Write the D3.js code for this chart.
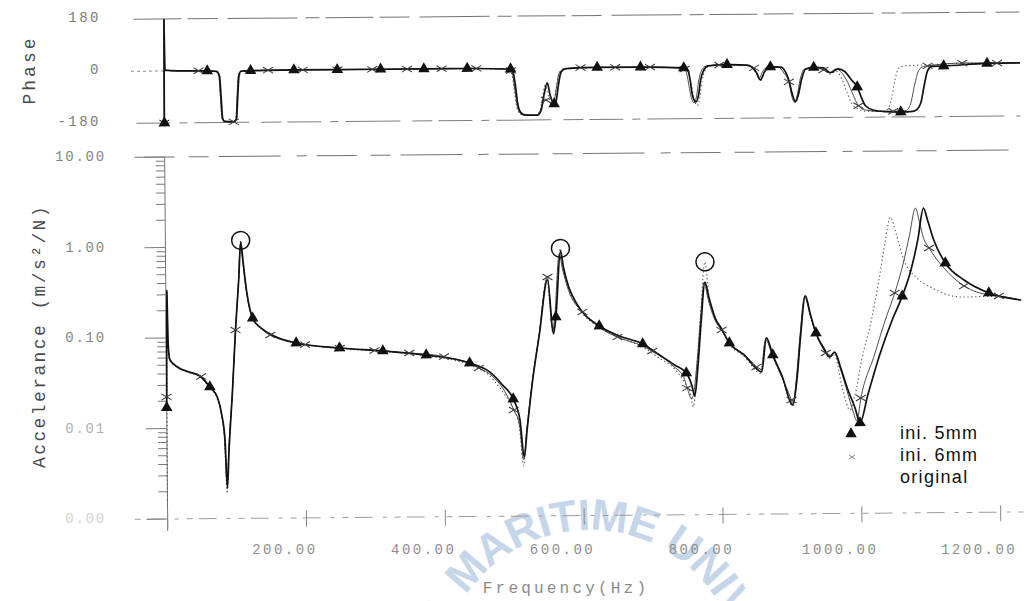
<!DOCTYPE html>
<html>
<head>
<meta charset="utf-8">
<script src="https://cdn.jsdelivr.net/npm/d3@7"></script>
<style>
  html, body { margin: 0; padding: 0; background: #ffffff; }
  svg { display: block; }
</style>
</head>
<body>
<svg id="chart" width="1028" height="601"></svg>
<script>
// ---- series names ----
const seriesNames = ["ini. 5mm", "ini. 6mm", "original"];

// ---- accelerance magnitude [Hz, m/s^2/N] ----
const ampIni5 = [
  [0,0.017],[0.8,0.12],[1.6,0.34],[2.6,0.095],[5,0.058],[16,0.0477],[33,0.0419],[48,0.0378],
  [62.4,0.0285],[73.5,0.0215],[79.3,0.0139],[83.6,0.0074],[86.5,0.00217],[89.3,0.0057],[95,0.0263],
  [100,0.121],[105.2,0.431],[108.5,1.13],[111.7,0.68],[115.3,0.38],[124.8,0.163],[137,0.126],
  [155.6,0.103],[187.2,0.0857],[249.6,0.0748],[312,0.0688],[374.4,0.0614],[436.8,0.0497],
  [465.5,0.0394],[484,0.0282],[499.2,0.0197],[508.7,0.0115],[514.5,0.0045],[518.8,0.0089],
  [527.4,0.0318],[537.5,0.1],[550,0.404],[558,0.102],[561.6,0.157],[569,0.842],[573.3,0.546],
  [580.5,0.336],[592,0.218],[624,0.124],[652.8,0.0957],[686.4,0.0778],[710.5,0.0585],[732,0.0453],
  [748.8,0.0368],[756.5,0.0271],[760.8,0.0205],[765.2,0.0397],[771,0.141],[776.6,0.371],[782.5,0.247],
  [791,0.148],[799.4,0.115],[811.2,0.0783],[832.5,0.0575],[857.4,0.0372],[864.6,0.0883],[873.6,0.0572],
  [886.2,0.0343],[902,0.016],[908,0.0301],[914,0.0946],[921,0.255],[928.5,0.157],[936,0.0991],
  [947,0.0676],[955.6,0.0537],[962.8,0.0609],[971.3,0.0405],[981.5,0.0231],[991.5,0.0146],[998.4,0.01],
  [1010,0.0203],[1027.5,0.056],[1046,0.136],[1060.8,0.249],[1073.6,0.483],[1083.7,1.03],[1092.3,2.33],
  [1098,1.72],[1106.8,1.03],[1123.2,0.573],[1150,0.37],[1185.6,0.265],[1232,0.22]
];
const ampIni6 = [
  [0,0.0223],[0.8,0.11],[1.6,0.32],[2.6,0.092],[5,0.057],[16,0.0472],[33,0.0415],[50,0.0373],
  [62,0.029],[73,0.0218],[79,0.014],[83,0.0076],[86,0.0024],[89,0.006],[95,0.027],[100,0.121],
  [105,0.43],[108,1.08],[111.5,0.66],[115,0.37],[125,0.16],[137,0.125],[150,0.1056],[200,0.0823],
  [250,0.0746],[300,0.0697],[350,0.0649],[400,0.0589],[450,0.0437],[470,0.035],[485,0.0255],
  [500,0.0149],[508,0.0102],[513.5,0.0042],[518,0.0085],[527,0.031],[537,0.098],[550,0.436],
  [557,0.11],[560,0.16],[567,0.78],[572,0.52],[580,0.31],[600,0.178],[625,0.118],[650,0.0933],
  [686,0.074],[700,0.0649],[730,0.044],[745,0.033],[750,0.0251],[756,0.019],[759.5,0.0225],[764,0.045],
  [770,0.15],[775.5,0.37],[781,0.24],[790,0.145],[800,0.109],[811,0.08],[832,0.058],[850,0.0423],
  [856,0.037],[863.5,0.085],[873,0.056],[886,0.033],[900,0.0181],[902,0.0165],[907,0.03],[913,0.093],
  [920,0.25],[928,0.155],[936,0.098],[950,0.0595],[955,0.053],[962,0.06],[971,0.039],[981,0.0214],
  [988,0.0139],[994,0.0105],[1000,0.0188],[1020,0.056],[1035,0.129],[1050,0.27],[1062,0.55],
  [1072,1.18],[1080.7,2.33],[1086.5,1.63],[1092,1.09],[1100,0.842],[1121,0.505],[1150,0.318],
  [1186,0.252],[1200,0.245],[1232,0.22]
];
const ampOriginal = [
  [0,0.0016],[0.8,0.1],[1.6,0.32],[2.6,0.09],[5,0.056],[16,0.047],[33,0.041],[48,0.037],[62,0.028],
  [73,0.021],[79,0.0135],[83,0.0072],[86,0.0019],[89,0.0055],[95,0.026],[100,0.12],[105,0.43],
  [108.5,1.18],[111.7,0.7],[115.3,0.38],[125,0.16],[137,0.125],[155,0.102],[190,0.085],[250,0.074],
  [312,0.068],[375,0.06],[437,0.047],[465,0.036],[482,0.025],[497,0.0165],[507,0.0105],[513.5,0.0036],
  [518,0.0082],[527,0.03],[537,0.096],[549,0.42],[557,0.105],[560.5,0.16],[569,0.9],[573,0.53],
  [580,0.33],[592,0.21],[624,0.12],[653,0.092],[686,0.072],[710,0.054],[732,0.041],[745,0.03],
  [755,0.021],[758.5,0.0155],[764,0.04],[770,0.16],[777,0.62],[782,0.27],[791,0.15],[800,0.11],
  [811,0.076],[832,0.056],[856,0.036],[864,0.09],[873,0.056],[886,0.033],[902,0.0155],[908,0.03],
  [914,0.095],[921,0.26],[928,0.155],[936,0.097],[947,0.066],[955,0.052],[962,0.058],[974,0.0231],
  [984,0.0139],[991.6,0.0203],[1001.5,0.0494],[1016,0.136],[1027.4,0.377],[1036,0.917],[1044.7,1.86],
  [1052,1.27],[1063.5,0.624],[1082,0.394],[1104,0.304],[1147.5,0.24],[1186,0.243],[1232,0.22]
];

// ---- phase [Hz, degrees] ----
const phaseIni5 = [
  [0,-180],[0.6,180],[1.3,3],[20,0],[62.4,-1],[76,-3],[80,-20],[82,-90],[84,-165],[87,-176],
  [100,-177],[104,-168],[106,-90],[108,-20],[111,-3],[124.8,-1],[187.2,0],[249.6,0],[312,0],
  [374.4,0],[436.8,0],[499.2,-3],[503,-15],[506,-60],[509,-120],[513,-152],[519,-162],[538,-163],
  [543,-145],[547,-95],[552,-52],[556,-95],[561.6,-125],[564.5,-115],[568,-60],[572,-15],[579,-3],
  [624,0],[686.4,0],[748.8,-4],[755,-15],[758,-50],[761,-100],[765.6,-122],[770,-95],[772.6,-50],
  [777,-15],[784,2],[811.2,6],[840,4],[848,-6],[854,-25],[859,-48],[865,-20],[873.6,-3],[888,-4],
  [895,-20],[900,-50],[905,-100],[909,-124],[913.5,-100],[918,-50],[924,-12],[936,-6],[950,-8],
  [960,-25],[971,-12],[981,-22],[990,-50],[998.4,-75],[1004,-110],[1010,-140],[1021,-155],
  [1039,-161],[1060.8,-163],[1078,-161],[1084,-155],[1090,-130],[1095,-70],[1100,-20],[1106,-6],
  [1123.2,-5],[1185.6,3],[1233,4]
];
const phaseIni6 = [
  [0,-180],[0.6,180],[1.3,3],[20,0],[50,0],[75,-3],[79,-20],[81,-90],[83,-165],[86,-176],
  [100,-178],[103,-168],[105,-90],[107,-20],[110,-3],[150,0],[200,0],[250,0],[300,0],[350,0],
  [400,0],[450,0],[498,-4],[500,-8],[502,-20],[505,-70],[508,-125],[512,-155],[518,-163],[536,-164],
  [541,-150],[545,-125],[550,-111],[554,-118],[558,-125],[561,-120],[565,-70],[569,-20],[576,-4],
  [600,0],[650,0],[700,0],[745,-5],[750,-8],[753,-25],[756,-65],[759,-105],[763,-125],[767,-100],
  [770,-50],[774,-15],[781,2],[800,5],[840,3],[850,-6],[853,-20],[857,-45],[862,-20],[870,-3],
  [885,-4],[893,-25],[900,-55],[904,-105],[908,-126],[912,-100],[916,-50],[922,-12],[935,-6],
  [950,-15],[958,-25],[968,-12],[976,-25],[985,-60],[992,-100],[1000,-140],[1010,-155],[1030,-160],
  [1050,-160],[1068,-158],[1075,-135],[1081,-70],[1087,-20],[1094,-6],[1100,-4],[1150,5],[1200,4],[1233,4]
];
const phaseOriginal = [
  [0,-180],[0.6,180],[1.3,3],[20,0],[75,-3],[79,-20],[81,-90],[83,-165],[86,-176],[100,-178],
  [103,-168],[105,-90],[107,-20],[110,-3],[200,0],[300,0],[400,0],[497,-4],[501,-20],[504,-70],
  [507,-125],[511,-155],[517,-163],[536,-164],[541,-150],[545,-100],[549,-60],[553,-95],[558,-125],
  [561,-120],[565,-70],[569,-20],[576,-4],[650,0],[748,-4],[755,-15],[759,-55],[763,-110],[768,-135],
  [772,-100],[775,-50],[779,-15],[786,2],[810,5],[840,3],[848,-8],[854,-28],[859,-50],[865,-20],
  [874,-3],[888,-4],[895,-22],[900,-55],[905,-105],[909,-128],[913.5,-100],[918,-50],[924,-12],
  [936,-6],[950,-10],[960,-30],[968,-20],[976,-45],[983,-90],[990,-130],[1000,-152],[1015,-160],
  [1035,-160],[1043,-150],[1048,-110],[1053,-50],[1058,-12],[1065,-4],[1100,0],[1150,4],[1200,4],[1233,4]
];

// ---- marker frequencies (points of each series that carry a symbol) ----
const triangleMarkHz = [0,62.4,124.8,187.2,249.6,312,374.4,436.8,499.2,561.6,624,686.4,748.8,
  811.2,873.6,936,998.4,1060.8,1123.2,1185.6];
const crossMarkHz = [0,50,100,150,200,250,300,350,400,450,500,550,600,650,700,750,800,850,900,
  950,1000,1050,1100,1150,1200];
// circled resonance peaks of the original structure
const circledPeakHz = [108.5, 569, 777];

// ---- ticks / labels ----
const freqTicks = [0, 200, 400, 600, 800, 1000, 1200];
const freqTickLabels = ["", "200.00", "400.00", "600.00", "800.00", "1000.00", "1200.00"];
const phaseTicks = [180, 0, -180];
const phaseTickLabels = ["180", "0", "-180"];
const ampTicks = [10, 1, 0.1, 0.01, 0.001];
const ampTickLabels = ["10.00", "1.00", "0.10", "0.01", "0.00"];

// =====================================================================
const svg = d3.select("#chart");

const x  = d3.scaleLinear().domain([0, 1233]).range([166, 1022]);
const yP = d3.scaleLinear().domain([-180, 180]).range([123, 19]);
const yA = d3.scaleLog().domain([0.001, 10]).range([519, 157]);

const monoFont = "'Liberation Mono', 'DejaVu Sans Mono', monospace";

// ---- background watermark (university seal lettering on an arc) ----
const arc = d3.path();
arc.arc(590, 680, 150, Math.PI - 1.0, 2 * Math.PI + 1.0, false);
svg.append("defs").append("path").attr("id", "sealArc").attr("d", arc.toString());
svg.append("text")
  .attr("font-family", "'Liberation Sans', Arial, sans-serif")
  .attr("font-weight", "bold")
  .attr("font-size", 44)
  .attr("letter-spacing", -1)
  .attr("fill", "#c6d6ea")
  .append("textPath")
  .attr("href", "#sealArc")
  .attr("startOffset", 76)
  .text("KOREA MARITIME UNIVERSITY");

// ---- plot body (the printed sheet sits at a slight tilt) ----
const plot = svg.append("g").attr("transform", "rotate(-0.47,166,320)");

const frameColor = "#737373";
function hline(y, x0, x1, dash, color, w) {
  plot.append("line")
    .attr("x1", x0).attr("x2", x1).attr("y1", y).attr("y2", y)
    .attr("stroke", color || frameColor)
    .attr("stroke-width", w || 1)
    .attr("stroke-dasharray", dash || null);
}

// phase panel frame
hline(yP(180), 136, 1022, "48,6,30,10,70,8,14,6");
hline(yP(-180), 138, 1022, "34,9,8,7,55,12,20,6", "#7d7d7d");
hline(yP(0), 133, x(0), "3,3", "#8a8a8a");
plot.append("line").attr("x1", x(0)).attr("x2", x(0)).attr("y1", yP(180)).attr("y2", yP(-180))
  .attr("stroke", frameColor).attr("stroke-width", 1);

// magnitude panel frame
hline(yA(10), 136, 1022, "40,14,20,10,62,16,10,10");
hline(yA(0.001), 133, 1022, "6,6,18,10,4,8", "#9d9d9d");
plot.append("line").attr("x1", x(0)).attr("x2", x(0)).attr("y1", yA(10)).attr("y2", 531)
  .attr("stroke", frameColor).attr("stroke-width", 1);

// log ticks on the magnitude axis
const logTicks = yA.ticks();
plot.append("g").selectAll("line").data(logTicks).join("line")
  .attr("x1", d => {
    const e = Math.log10(d);
    return Math.abs(e - Math.round(e)) < 1e-9 ? x(0) - 21 : x(0) - 9;
  })
  .attr("x2", x(0))
  .attr("y1", d => yA(d)).attr("y2", d => yA(d))
  .attr("stroke", "#7a7a7a").attr("stroke-width", 1);

// frequency ticks
plot.append("g").selectAll("line").data(freqTicks).join("line")
  .attr("x1", d => x(d)).attr("x2", d => x(d))
  .attr("y1", yA(0.001) - 7).attr("y2", yA(0.001) + 9)
  .attr("stroke", "#858585").attr("stroke-width", 1);

// ---- curves ----
const ampLine = d3.line().x(d => x(d[0])).y(d => yA(d[1])).curve(d3.curveMonotoneX);
const phaseLine = d3.line().x(d => x(d[0])).y(d => yP(d[1])).curve(d3.curveMonotoneX);

const styles = [
  { stroke: "#111", width: 1.7, dash: null },        // ini. 5mm
  { stroke: "#3a3a3a", width: 0.9, dash: null },     // ini. 6mm
  { stroke: "#555", width: 1.1, dash: "1.3,2.6" }    // original
];
const ampSeries = [ampIni5, ampIni6, ampOriginal];
const phaseSeries = [phaseIni5, phaseIni6, phaseOriginal];

[2, 1, 0].forEach(i => {
  plot.append("path").datum(ampSeries[i]).attr("d", ampLine)
    .attr("fill", "none").attr("stroke", styles[i].stroke)
    .attr("stroke-width", styles[i].width).attr("stroke-dasharray", styles[i].dash)
    .attr("stroke-linejoin", "round");
  plot.append("path").datum(phaseSeries[i]).attr("d", phaseLine)
    .attr("fill", "none").attr("stroke", styles[i].stroke)
    .attr("stroke-width", styles[i].width).attr("stroke-dasharray", styles[i].dash)
    .attr("stroke-linejoin", "round");
});

// ---- markers ----
function pick(series, hzList) {
  return hzList.map(h => series.find(p => Math.abs(p[0] - h) < 1e-6)).filter(Boolean);
}
const crossPath = "M-5,-3L5,3M-5,3L5,-3";
const triSym = d3.symbol().type(d3.symbolTriangle).size(58);

function drawCrosses(points, yScale) {
  plot.append("g").selectAll("path").data(points).join("path")
    .attr("d", crossPath)
    .attr("transform", d => `translate(${x(d[0])},${yScale(d[1])})`)
    .attr("fill", "none").attr("stroke", "#3a3a3a").attr("stroke-width", 1);
}
function drawTriangles(points, yScale) {
  plot.append("g").selectAll("path").data(points).join("path")
    .attr("d", triSym)
    .attr("transform", d => `translate(${x(d[0])},${yScale(d[1])})`)
    .attr("fill", "#111");
}
drawCrosses(pick(ampIni6, crossMarkHz), yA);
drawCrosses(pick(phaseIni6, crossMarkHz), yP);
drawTriangles(pick(ampIni5, triangleMarkHz), yA);
drawTriangles(pick(phaseIni5, triangleMarkHz), yP);

// circled peaks
plot.append("g").selectAll("circle").data(pick(ampOriginal, circledPeakHz)).join("circle")
  .attr("cx", d => x(d[0])).attr("cy", d => yA(d[1]))
  .attr("r", 9).attr("fill", "none").attr("stroke", "#111").attr("stroke-width", 1.5);

// ---- tick labels ----
svg.append("g").selectAll("text").data(phaseTicks).join("text")
  .attr("x", 101).attr("y", d => yP(d) + 3)
  .attr("text-anchor", "end")
  .attr("font-family", monoFont).attr("font-size", 14).attr("letter-spacing", 2.5)
  .attr("fill", "#7c7c7c")
  .text((d, i) => phaseTickLabels[i]);

svg.append("g").selectAll("text").data(ampTicks).join("text")
  .attr("x", 106).attr("y", d => yA(d) + 4)
  .attr("text-anchor", "end")
  .attr("font-family", monoFont).attr("font-size", 14).attr("letter-spacing", 1.8)
  .attr("fill", d => d < 0.005 ? "#d2d2d2" : (d < 0.05 ? "#b0b0b0" : "#858585"))
  .text((d, i) => ampTickLabels[i]);

svg.append("g").selectAll("text").data(freqTicks).join("text")
  .attr("x", d => x(d) - 20).attr("y", 554)
  .attr("text-anchor", "middle")
  .attr("font-family", monoFont).attr("font-size", 14).attr("letter-spacing", 2.5)
  .attr("fill", "#8e8e8e")
  .text((d, i) => freqTickLabels[i]);

// ---- axis titles ----
svg.append("text")
  .attr("transform", "translate(35,70) rotate(-90)")
  .attr("text-anchor", "middle")
  .attr("font-family", monoFont).attr("font-size", 18).attr("letter-spacing", 3)
  .attr("fill", "#4a4a4a")
  .text("Phase");

svg.append("text")
  .attr("transform", "translate(45,336) rotate(-90)")
  .attr("text-anchor", "middle")
  .attr("font-family", monoFont).attr("font-size", 18).attr("letter-spacing", 2.4)
  .attr("fill", "#4a4a4a")
  .text("Accelerance (m/s²/N)");

svg.append("text")
  .attr("x", 566).attr("y", 593)
  .attr("text-anchor", "middle")
  .attr("font-family", monoFont).attr("font-size", 16).attr("letter-spacing", 3.2)
  .attr("fill", "#8a8a8a")
  .text("Frequency(Hz)");

// ---- legend ----
const legend = svg.append("g");
legend.selectAll("text").data(seriesNames).join("text")
  .attr("x", 900).attr("y", (d, i) => 439 + i * 22)
  .attr("font-family", "'Liberation Sans', Arial, sans-serif")
  .attr("font-size", 18).attr("letter-spacing", 1.3)
  .attr("fill", "#111")
  .text(d => d);
legend.append("path").attr("d", triSym).attr("transform", "translate(851,434)").attr("fill", "#111");
legend.append("path").attr("d", "M-3,-2L3,2M-3,2L3,-2").attr("transform", "translate(852,457)")
  .attr("fill", "none").attr("stroke", "#888").attr("stroke-width", 1);
</script>
</body>
</html>
